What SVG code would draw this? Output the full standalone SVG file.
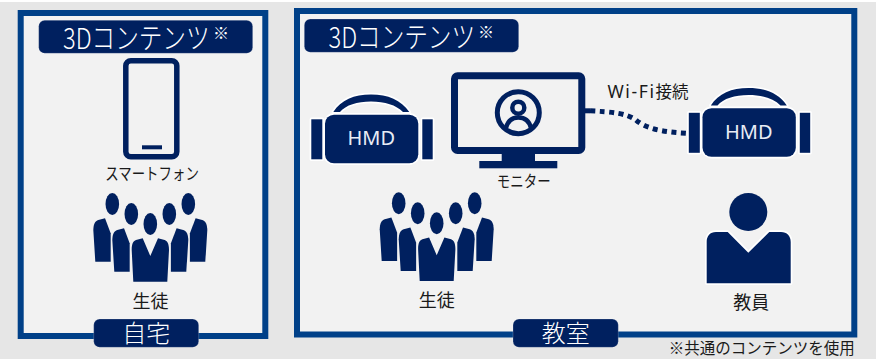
<svg xmlns="http://www.w3.org/2000/svg" width="876" height="359" viewBox="0 0 876 359">
<style>
.panel{fill:#f2f2f2;stroke:#004088;stroke-width:6}
.navy{fill:#00205f}
.pill{fill:#00205f;stroke:#fff;stroke-opacity:.35;stroke-width:.6}
.wt{fill:#fff;font-family:"Noto Sans CJK JP","Noto Sans",sans-serif;font-weight:300}
.lb{fill:#1a1a1a;font-family:"Noto Sans CJK JP","Noto Sans",sans-serif;font-weight:400;text-anchor:middle}
.cap{font-size:29px}
.sup{font-size:16px}
.ttl{font-size:24px;text-anchor:middle}
.hmdt{fill:#e8ecf5;font-family:"Noto Sans",sans-serif;font-size:20px;text-anchor:middle}
.out{stroke:#fff;stroke-width:3.4;stroke-linejoin:round;fill:#00205f;paint-order:stroke}
</style>
<defs>
<g id="people">
<g id="side"><path d="M105,218.3L110.7,233.3V261.7H95.3L93.3,230C93.5,224 95,221 98.3,220Z"/>
<path d="M124,228.3L129.7,243.3V271.7H114.3L112.3,240C112.5,234 114,231 117.3,230Z"/></g>
<use href="#side" transform="translate(300.6 0) scale(-1 1)"/>
<ellipse cx="112.3" cy="204" rx="6.8" ry="11"/><ellipse cx="131.3" cy="214" rx="6.8" ry="11"/><ellipse cx="150.3" cy="224" rx="6.8" ry="11"/><ellipse cx="169.3" cy="214" rx="6.8" ry="11"/><ellipse cx="188.3" cy="204" rx="6.8" ry="11"/>
<path d="M131.7,250C131.7,243 133.5,241 136,240L142.7,238.3L150.3,256L158,238.3L164.7,240C167,241 169,243 169,250L167.3,281.7H133.3Z"/>
</g>
<g id="hmd">
<path class="out" d="M333.3,112C341,100 354,94.5 371,94.5C388,94.5 401,100 409.3,112H403C396,105 385,101.5 371,101.5C357,101.5 346,105 340,112Z"/>
<rect class="out" x="325" y="114.7" width="93.3" height="48.6" rx="9"/>
<rect class="out" x="311.3" y="119.3" width="11" height="40"/>
<rect class="out" x="422.3" y="119.3" width="10.4" height="40"/>
</g>
</defs>
<rect width="876" height="359" fill="#e6e6e6"/>
<rect width="876" height="2" fill="#fff"/>
<g id="home-panel">
<rect class="panel" x="20.7" y="13" width="244.6" height="323"/>
<rect class="pill" x="38.7" y="20.3" width="214" height="33" rx="6"/>
<text class="wt cap" transform="translate(63 49) scale(.815 1)">3Dコンテンツ</text>
<text class="wt sup" x="213" y="39">※</text>
<rect class="pill" x="93.7" y="319" width="105" height="28.3" rx="6"/>
<text class="wt ttl" x="146.2" y="342">自宅</text>
</g>
<g id="classroom-panel">
<rect class="panel" x="297" y="11" width="557.3" height="323.5"/>
<rect class="pill" x="304.3" y="19" width="214.4" height="33.3" rx="6"/>
<text class="wt cap" transform="translate(328.5 48) scale(.815 1)">3Dコンテンツ</text>
<text class="wt sup" x="478" y="38">※</text>
<rect class="pill" x="513" y="319" width="105.3" height="28.3" rx="6"/>
<text class="wt ttl" x="565.7" y="342">教室</text>
</g>
<g id="connectors">
<path d="M585,110.8H590" fill="none" stroke="#00205f" stroke-width="5"/>
<path d="M590,110.8C612,112 626,113 636,120C645,128 660,132 688,133.4" fill="none" stroke="#00205f" stroke-width="5" stroke-dasharray="5 4.5"/>
</g>
<g id="smartphone">
<rect x="125.8" y="60.7" width="51" height="96" rx="5" fill="none" stroke="#00205f" stroke-width="5.5"/>
<rect class="navy" x="142" y="145.3" width="20" height="4"/>
<text class="lb" transform="translate(152 180) scale(.815 1)" font-size="16.5">スマートフォン</text>
</g>
<g id="students-home" class="navy">
<use href="#people"/>
<text class="lb" x="150.5" y="307.5" font-size="18">生徒</text>
</g>
<g id="hmd-left">
<use href="#hmd"/>
<text class="hmdt" x="371.3" y="145">HMD</text>
</g>
<g id="monitor">
<rect x="454.5" y="75.8" width="127.3" height="74.7" rx="3" fill="none" stroke="#00205f" stroke-width="7"/>
<rect class="navy" x="501.7" y="154" width="33.3" height="8"/>
<rect class="navy" x="479.3" y="161" width="78" height="7.3"/>
<circle cx="518.3" cy="112.7" r="21" fill="none" stroke="#00205f" stroke-width="5"/>
<circle cx="518.3" cy="107.7" r="6" fill="none" stroke="#00205f" stroke-width="4.5"/>
<path d="M506,128C508,120 513,117.5 518.3,117.5C524,117.5 529,120 531,128" fill="none" stroke="#00205f" stroke-width="4.5"/>
<text class="lb" transform="translate(523.7 187) scale(.84 1)" font-size="16">モニター</text>
</g>
<g id="wifi-label">
<text class="lb" x="648" y="97.5" font-size="16.5"><tspan letter-spacing="1.6" font-family="Noto Sans" font-size="17.5">Wi-Fi</tspan>接続</text>
</g>
<g id="hmd-right">
<use href="#hmd" transform="translate(377.5 -6.5)"/>
<text class="hmdt" x="748.8" y="138.5">HMD</text>
</g>
<g id="students-class" class="navy">
<use href="#people" transform="translate(286.4 -0.7)"/>
<text class="lb" x="436.8" y="306.5" font-size="18">生徒</text>
</g>
<g id="teacher">
<circle class="navy" cx="748.3" cy="212" r="19"/>
<path class="out" d="M727.7,232L748.3,252.7L769.3,232H781C787,232 790.7,236 790.7,242V283.3H706.7V242C706.7,236 710,232 716,232Z"/>
<text class="lb" x="751.3" y="308.5" font-size="18">教員</text>
</g>
<g id="footnote">
<text class="lb" x="761.7" y="354.4" font-size="15.5">※共通のコンテンツを使用</text>
</g>
</svg>
